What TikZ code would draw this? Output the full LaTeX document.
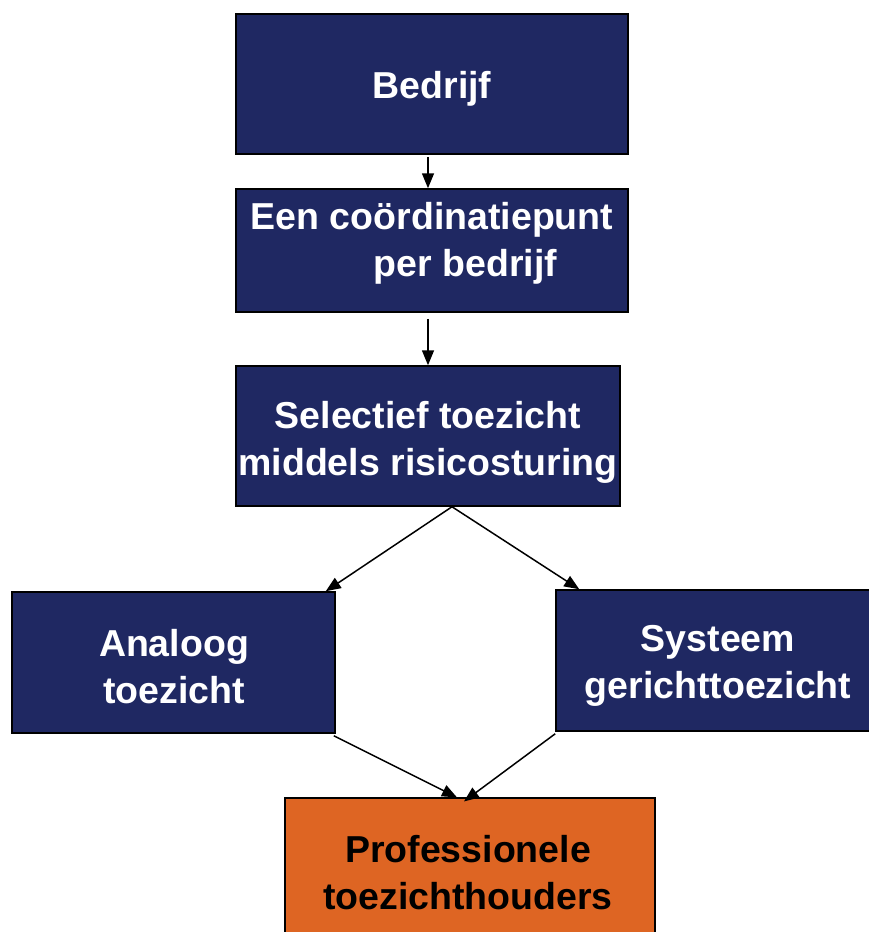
\documentclass[tikz,border=0pt]{standalone}
\usepackage{fontspec}
\setmainfont{Liberation Sans}
\usetikzlibrary{arrows.meta}
\definecolor{navy}{RGB}{31,40,98}
\definecolor{orng}{RGB}{222,101,35}
\begin{document}
\begin{tikzpicture}[x=1pt,y=-1pt,
  box/.style={draw=black,line width=1.5pt,fill=navy,rectangle,inner sep=0pt},
  obox/.style={draw=black,line width=1.2pt,fill=orng,rectangle,inner sep=0pt},
  wtxt/.style={text=white,font=\bfseries\fontsize{37.5}{47}\selectfont,inner sep=0pt},
  btxt/.style={text=black,font=\bfseries\fontsize{37.5}{47}\selectfont,inner sep=0pt},
  arr/.style={draw=black,line width=1.5pt,-{Triangle[length=15pt,width=12pt]}}]
\useasboundingbox (0,0) rectangle (869,932);
\begin{scope}
\clip (0,0) rectangle (869,932);
\node[box,minimum width=392pt,minimum height=140pt] (b1) at (432,84) {};
\node[box,minimum width=392pt,minimum height=123pt] (b2) at (432,250.5) {};
\node[box,minimum width=384pt,minimum height=140pt] (b3) at (428,436) {};
\node[box,minimum width=323pt,minimum height=141pt] (b4) at (173.5,662.5) {};
\node[box,minimum width=324pt,minimum height=141pt] (b5) at (718,660.5) {};
\node[obox,minimum width=370pt,minimum height=142pt] (b6) at (470,869) {};

\node[wtxt] (t1) at (432,89) {Bedrijf};
\node[wtxt,align=left] (t2) at (432,243) {Een coördinatiepunt\\\hspace*{123pt}per bedrijf};
\node[wtxt,align=center] (t3) at (428,442) {Selectief toezicht\\middels risicosturing};
\node[wtxt,align=center] (t4) at (174,667) {Analoog\\toezicht};
\node[wtxt,align=center] (t5) at (718,666) {Systeem\\gerichttoezicht};
\node[btxt,align=center] (t6) at (468,873) {Professionele\\toezichthouders};

\draw[arr] ([yshift=-2pt]b1.south -| b3) -- (b2.north -| b3);
\draw[arr] ([yshift=-6pt]b2.south -| b3) -- (b3.north);
\draw[arr] ([xshift=24pt]b3.south) -- ([xshift=-10pt]b4.north east);
\draw[arr] ([xshift=24pt]b3.south) -- ([xshift=24pt]b5.north west);
\draw[arr] ([xshift=-2pt,yshift=-2pt]b4.south east) -- ([xshift=-13pt]b6.north);
\draw[arr] ([yshift=-2pt]b5.south west) -- ([xshift=-6pt,yshift=-4pt]b6.north);
\end{scope}
\end{tikzpicture}
\end{document}
